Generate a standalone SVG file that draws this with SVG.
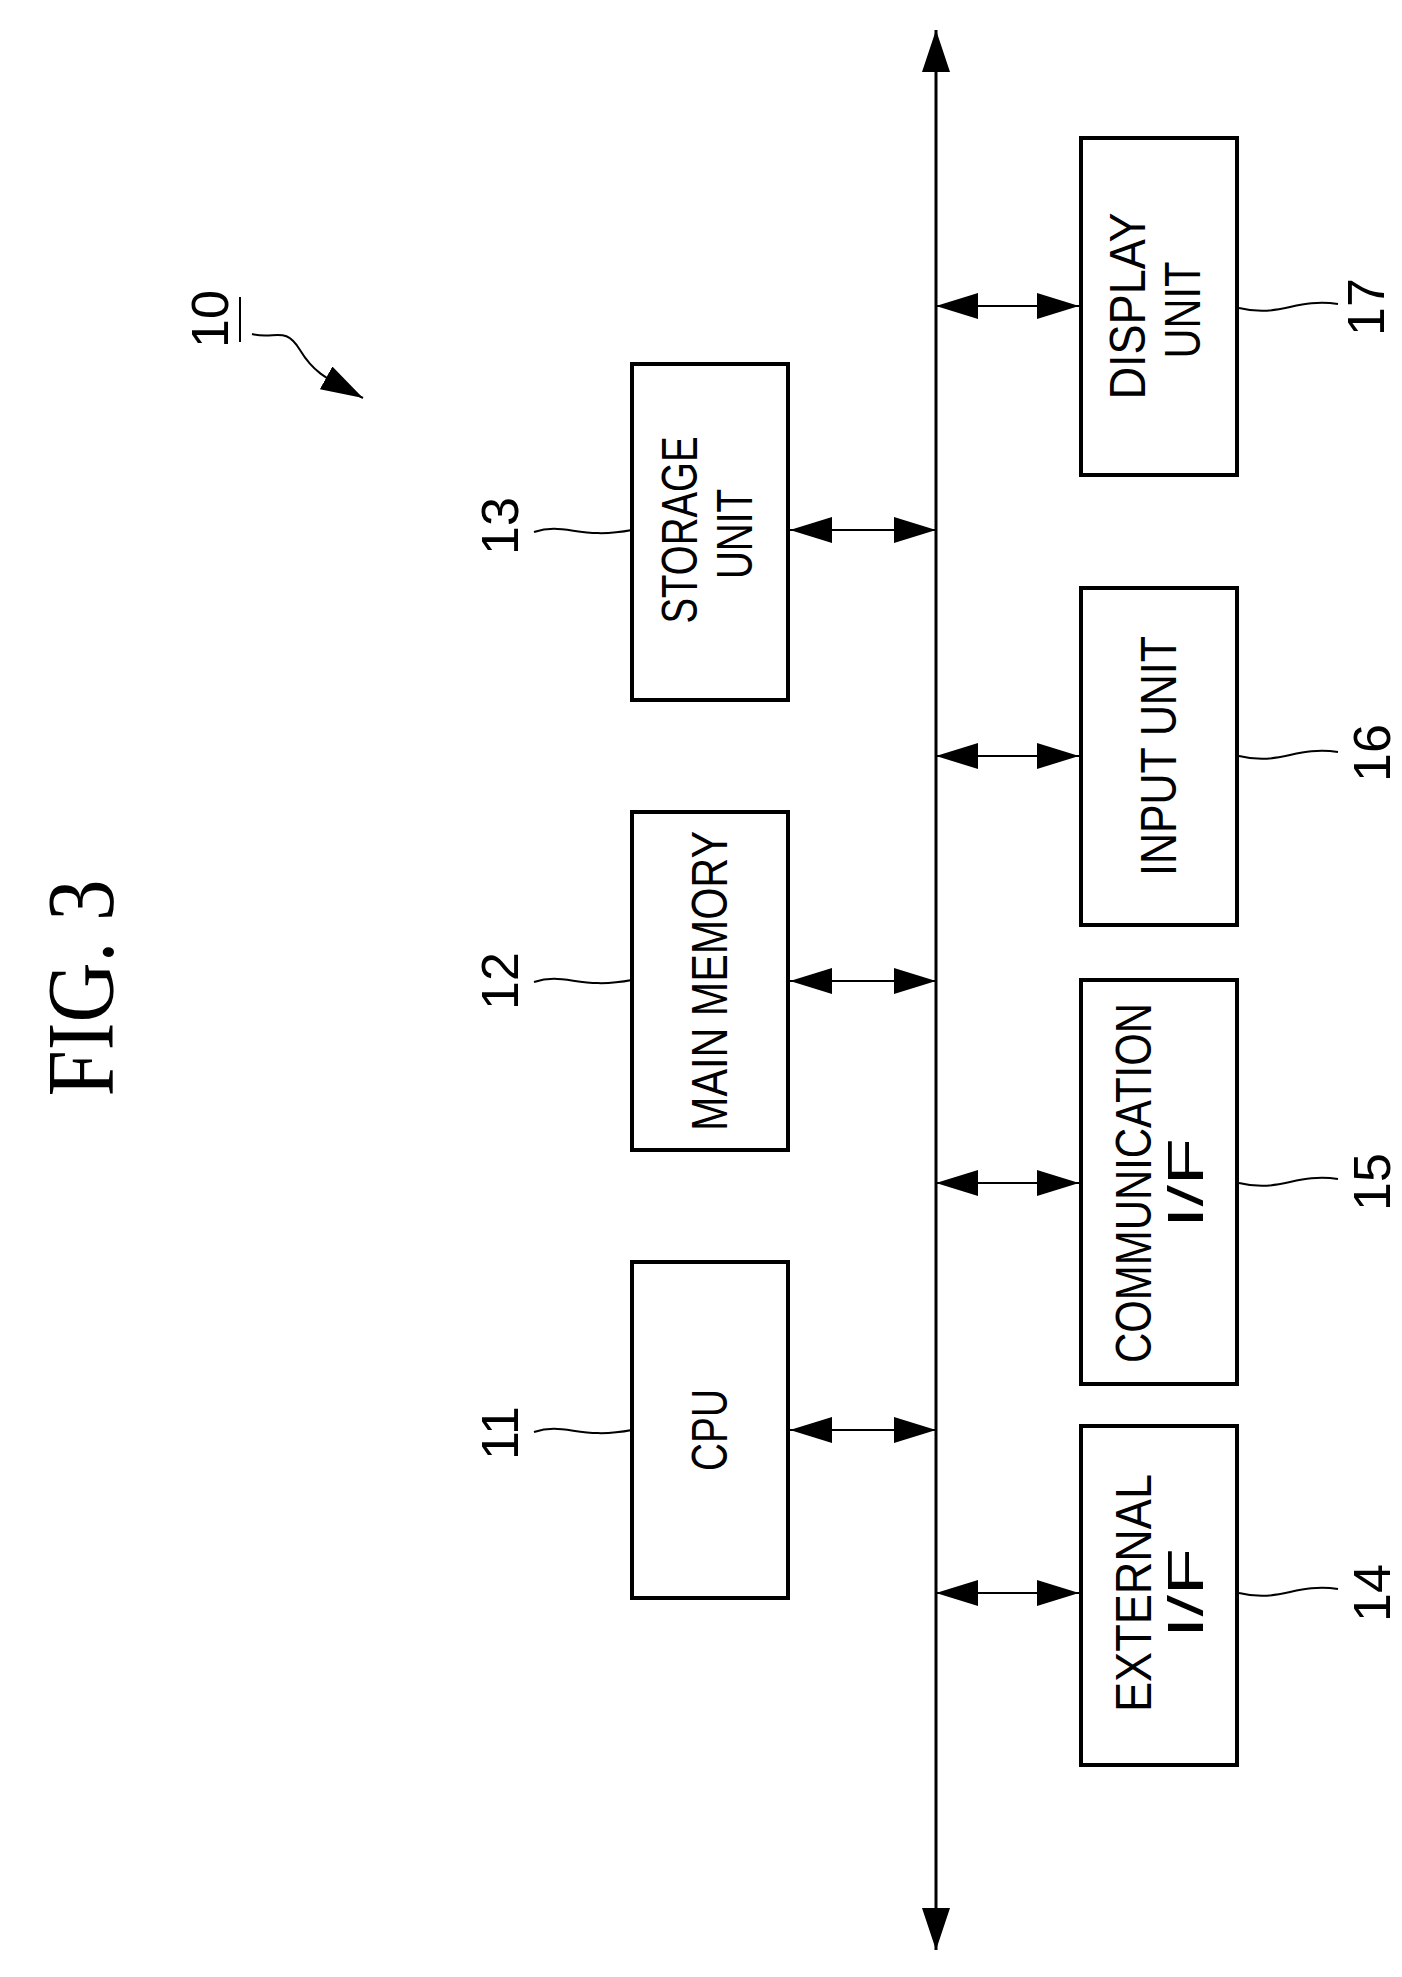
<svg xmlns="http://www.w3.org/2000/svg" width="1402" height="1977" viewBox="0 0 1402 1977">
<style>
.box{fill:#fff;stroke:#000;stroke-width:4}
.t{font-family:"Liberation Sans",sans-serif;font-size:50px;text-anchor:middle;dominant-baseline:central}
.n{font-family:"Liberation Sans",sans-serif;font-size:52px;text-anchor:middle;dominant-baseline:central}
.ln{fill:none;stroke:#000;stroke-width:2}
.bus{stroke:#000;stroke-width:3;fill:none}
</style>
<defs>
<marker id="ah" markerWidth="10" markerHeight="8" refX="10" refY="4" orient="auto-start-reverse" markerUnits="userSpaceOnUse" viewBox="0 0 10 8">
<path d="M0,0 L10,4 L0,8 z" fill="#000"/>
</marker>
<marker id="ab" markerWidth="42" markerHeight="26" refX="42" refY="13" orient="auto-start-reverse" markerUnits="userSpaceOnUse" viewBox="0 0 42 26">
<path d="M0,0 L42,13 L0,26 z" fill="#000"/>
</marker>
<marker id="ab2" markerWidth="42" markerHeight="28" refX="42" refY="14" orient="auto-start-reverse" markerUnits="userSpaceOnUse" viewBox="0 0 42 28">
<path d="M0,0 L42,14 L0,28 z" fill="#000"/>
</marker>
</defs>
<text x="80" y="988" font-family="Liberation Serif,serif" font-size="96" text-anchor="middle" dominant-baseline="central" textLength="217" lengthAdjust="spacingAndGlyphs" transform="rotate(-90 80 988)">FIG. 3</text>
<g id="ref10">
<text class="n" x="210" y="319" transform="rotate(-90 210 319)">10</text>
<line class="ln" x1="240" y1="297" x2="240" y2="342"/>
</g>
<g id="connectors">
<line class="bus" x1="936" y1="30" x2="936" y2="1950" marker-start="url(#ab2)" marker-end="url(#ab2)"/>
<path class="ln" d="M252,334 C275,340 285,325 300,350 C315,375 330,380 363,398" marker-end="url(#ab)" stroke-width="2"/>
<line class="ln" x1="790" y1="530" x2="936" y2="530" marker-start="url(#ab)" marker-end="url(#ab)"/>
<line class="ln" x1="790" y1="981" x2="936" y2="981" marker-start="url(#ab)" marker-end="url(#ab)"/>
<line class="ln" x1="790" y1="1430" x2="936" y2="1430" marker-start="url(#ab)" marker-end="url(#ab)"/>
<line class="ln" x1="936" y1="306" x2="1079" y2="306" marker-start="url(#ab)" marker-end="url(#ab)"/>
<line class="ln" x1="936" y1="756" x2="1079" y2="756" marker-start="url(#ab)" marker-end="url(#ab)"/>
<line class="ln" x1="936" y1="1183" x2="1079" y2="1183" marker-start="url(#ab)" marker-end="url(#ab)"/>
<line class="ln" x1="936" y1="1593" x2="1079" y2="1593" marker-start="url(#ab)" marker-end="url(#ab)"/>
<path class="ln" d="M534,532 C565,522 580,540 632,530"/>
<path class="ln" d="M534,982 C565,972 580,990 632,980"/>
<path class="ln" d="M534,1432 C565,1422 580,1440 632,1430"/>
<path class="ln" d="M1239,308 C1280,318 1295,298 1338,304"/>
<path class="ln" d="M1239,756 C1280,766 1295,746 1338,752"/>
<path class="ln" d="M1239,1183 C1280,1193 1295,1173 1338,1179"/>
<path class="ln" d="M1239,1593 C1280,1603 1295,1583 1338,1589"/>
</g>
<g id="n13"><rect class="box" x="632" y="364" width="156" height="336"/>
<text class="t" x="680" y="530" textLength="187" lengthAdjust="spacingAndGlyphs" transform="rotate(-90 680 530)">STORAGE</text>
<text class="t" x="735" y="534" textLength="90" lengthAdjust="spacingAndGlyphs" transform="rotate(-90 735 534)">UNIT</text>
<text class="n" x="500" y="526" transform="rotate(-90 500 526)">13</text></g>
<g id="n12"><rect class="box" x="632" y="812" width="156" height="338"/>
<text class="t" x="710" y="981" textLength="300" lengthAdjust="spacingAndGlyphs" transform="rotate(-90 710 981)">MAIN MEMORY</text>
<text class="n" x="500" y="981" transform="rotate(-90 500 981)">12</text></g>
<g id="n11"><rect class="box" x="632" y="1262" width="156" height="336"/>
<text class="t" x="710" y="1430" textLength="82" lengthAdjust="spacingAndGlyphs" transform="rotate(-90 710 1430)">CPU</text>
<text class="n" x="500" y="1433" transform="rotate(-90 500 1433)">11</text></g>
<g id="n17"><rect class="box" x="1081" y="138" width="156" height="337"/>
<text class="t" x="1128" y="306" textLength="187" lengthAdjust="spacingAndGlyphs" transform="rotate(-90 1128 306)">DISPLAY</text>
<text class="t" x="1183" y="310" textLength="97" lengthAdjust="spacingAndGlyphs" transform="rotate(-90 1183 310)">UNIT</text>
<text class="n" x="1366" y="307" transform="rotate(-90 1366 307)">17</text></g>
<g id="n16"><rect class="box" x="1081" y="588" width="156" height="337"/>
<text class="t" x="1159" y="756" textLength="240" lengthAdjust="spacingAndGlyphs" transform="rotate(-90 1159 756)">INPUT UNIT</text>
<text class="n" x="1372" y="753" transform="rotate(-90 1372 753)">16</text></g>
<g id="n15"><rect class="box" x="1081" y="980" width="156" height="404"/>
<text class="t" x="1134" y="1183" textLength="360" lengthAdjust="spacingAndGlyphs" transform="rotate(-90 1134 1183)">COMMUNICATION</text>
<text class="t" x="1186" y="1183" textLength="90" lengthAdjust="spacingAndGlyphs" transform="rotate(-90 1186 1183)">I/F</text>
<text class="n" x="1372" y="1182" transform="rotate(-90 1372 1182)">15</text></g>
<g id="n14"><rect class="box" x="1081" y="1426" width="156" height="339"/>
<text class="t" x="1134" y="1593" textLength="238" lengthAdjust="spacingAndGlyphs" transform="rotate(-90 1134 1593)">EXTERNAL</text>
<text class="t" x="1186" y="1593" textLength="90" lengthAdjust="spacingAndGlyphs" transform="rotate(-90 1186 1593)">I/F</text>
<text class="n" x="1372" y="1593" transform="rotate(-90 1372 1593)">14</text></g>
</svg>
